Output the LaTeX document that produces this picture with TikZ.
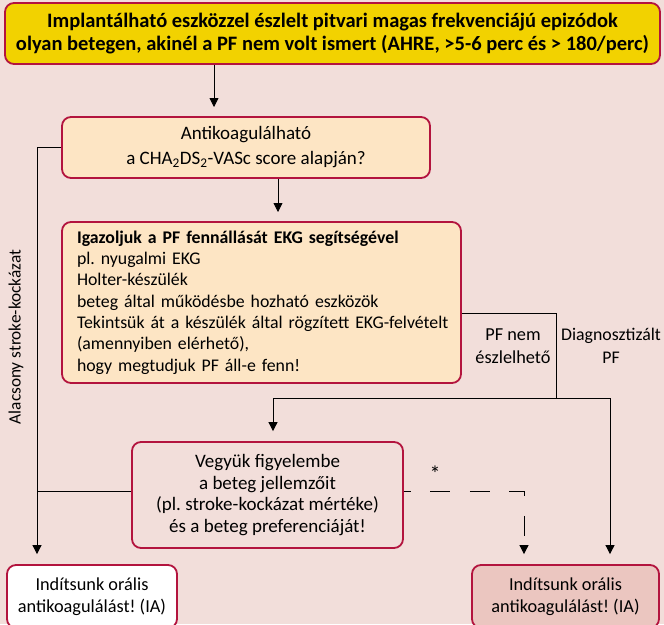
\documentclass[tikz,border=0pt]{standalone}
\usepackage{fontspec}
\setmainfont{Carlito}
\usetikzlibrary{arrows.meta}
\frenchspacing
\definecolor{bgpink}{HTML}{F2DEDA}
\definecolor{frame}{HTML}{B3143E}
\definecolor{headyellow}{HTML}{F2D200}
\definecolor{cream}{HTML}{FDE5C4}
\definecolor{rosefill}{HTML}{EBC6C0}
\tikzset{
  box/.style={draw=frame, line width=1.8pt, rounded corners=9pt, align=center, inner sep=0pt},
  conn/.style={line width=0.8pt, black},
  arr/.style={conn, -{Triangle[width=9pt,length=9pt]}, shorten >=10pt},
  txt/.style={font=\fontsize{19}{21.6}\selectfont},
  smalltxt/.style={font=\fontsize{18.3}{22.5}\selectfont},
}
\begin{document}
\begin{tikzpicture}[x=1pt, y=-1pt]
  \fill[bgpink] (0,0) rectangle (664,624);
  \clip (0,0) rectangle (664,624);
  \useasboundingbox (0,0) rectangle (664,624);

  % boxes
  \node[box, fill=headyellow, minimum width=655pt, minimum height=61pt,
        font=\bfseries\fontsize{20.5}{23}\selectfont] (top) at (332.5,33.5)
    {Implantálható eszközzel észlelt pitvari magas frekvenciájú epizódok\\
     olyan betegen, akinél a PF nem volt ismert (AHRE, >5-6 perc és > 180/perc)};

  \node[box, fill=cream, minimum width=368pt, minimum height=61pt,
        font=\fontsize{19}{25}\selectfont] (q) at (246,147.5)
    {Antikoagulálható\\ a CHA\textsubscript{2}DS\textsubscript{2}-VASc score alapján?};

  \node[box, fill=cream, minimum width=399pt, minimum height=161pt,
        text width=369pt, align=left, font=\fontsize{17.8}{21.3}\selectfont] (ekg) at (261.5,302.5)
    {\mbox{\textbf{Igazoljuk a PF fennállását EKG segítségével}}\\
     \mbox{pl. nyugalmi EKG}\\
     \mbox{Holter-készülék}\\
     \mbox{beteg által működésbe hozható eszközök}\\
     \mbox{Tekintsük át a készülék által rögzített EKG-felvételt}\\
     \mbox{(amennyiben elérhető),}\\
     \mbox{hogy megtudjuk PF áll-e fenn!}};

  \node[box, fill=bgpink, minimum width=271pt, minimum height=106pt, txt] (cons) at (267.5,495)
    {Vegyük figyelembe\\ a beteg jellemzőit\\ (pl. stroke-kockázat mértéke)\\ és a beteg preferenciáját!};

  \node[box, fill=white, minimum width=170pt, minimum height=63pt, smalltxt] (oacL) at (92,596.5)
    {Indítsunk orális\\ antikoagulálást! (IA)};

  \node[box, fill=rosefill, minimum width=187pt, minimum height=63pt, smalltxt] (oacR) at (565.5,596.5)
    {Indítsunk orális\\ antikoagulálást! (IA)};

  % routing points
  \coordinate (lc) at (37,147.5);
  \coordinate (r1) at (556,313);
  \coordinate (r2) at (556,398);
  \coordinate (sL) at (273,398);
  \coordinate (sR) at (610,398);
  \coordinate (jn) at (37,491);
  \coordinate (dc) at (524,491);

  % connectors
  \draw[arr] (top.south -| 214,0) -- (214,117);
  \draw[arr] (q.south -| 278,0) -- (278,222);
  \draw[arr] (q.west) -- (lc) -- (lc |- oacL.north);
  \draw[conn] (ekg.east |- r1) -- (r1) -- (r2);
  \draw[arr] (r2) -- (sL) -- (sL |- cons.north);
  \draw[arr] (r2) -- (sR) -- (sR |- oacR.north);
  \draw[conn] (cons.west |- jn) -- (jn);
  \draw[arr, dash pattern=on 20pt off 19.5pt, dash phase=13pt] (cons.east |- dc) -- (dc) -- (dc |- oacR.north);

  % labels
  \node[smalltxt, align=center] (nodet) at (513,346) {PF nem\\észlelhető};
  \node[font=\fontsize{17.8}{22.5}\selectfont, align=center] (diag) at (611,346) {Diagnosztizált\\PF};
  \node[font=\fontsize{22}{22}\selectfont] (star) at (435,474) {*};
  \node[font=\fontsize{17.3}{20}\selectfont, rotate=90] (low) at (16,337) {Alacsony stroke-kockázat};
\end{tikzpicture}
\end{document}
